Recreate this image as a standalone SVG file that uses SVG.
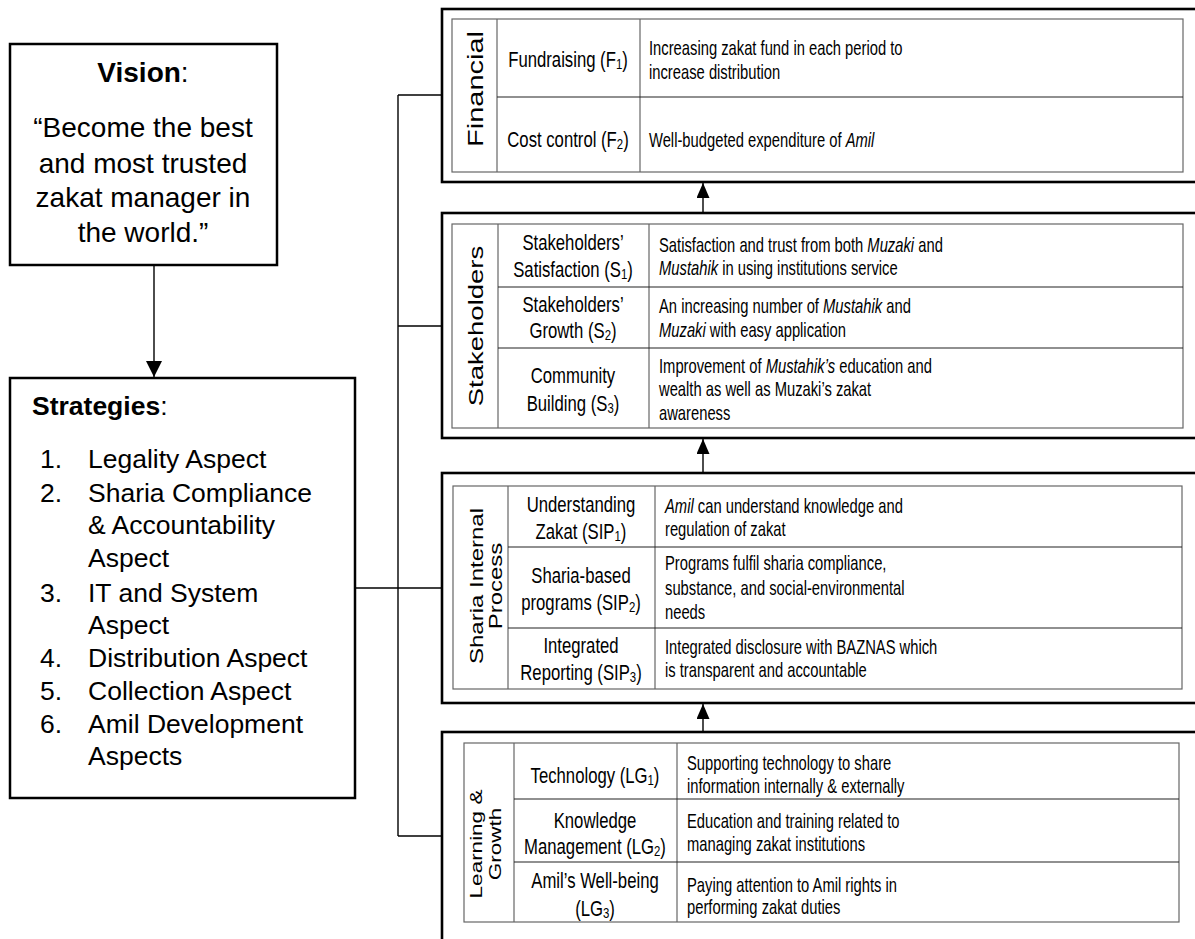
<svg xmlns="http://www.w3.org/2000/svg" width="1195" height="939" viewBox="0 0 1195 939">
<style>
text{font-family:"Liberation Sans",Arial,sans-serif;fill:#000}
.big{font-size:28px}
.lst{font-size:26.5px}
.mid{font-size:22px;text-anchor:middle}
.desc{font-size:20.5px}
.side{text-anchor:middle}
.box{fill:#fff;stroke:#000;stroke-width:2.5}
.outer{fill:#fff;stroke:#000;stroke-width:2.6}
.tbl{fill:none;stroke:#666;stroke-width:1.2}
.row{stroke:#222;stroke-width:1.2}
.col{stroke:#666;stroke-width:1.2}
.conn{fill:none;stroke:#000;stroke-width:1.4}
.sub{font-size:15px}
</style>
<defs>
<marker id="ah" markerWidth="16" markerHeight="16" refX="16" refY="8" orient="auto" markerUnits="userSpaceOnUse">
<path d="M0,0 L16,8 L0,16 Z" fill="#000"/>
</marker>
<marker id="ah2" markerWidth="15" markerHeight="13" refX="15" refY="6.5" orient="auto" markerUnits="userSpaceOnUse">
<path d="M0,0 L15,6.5 L0,13 Z" fill="#000"/>
</marker>
</defs>
<rect width="1195" height="939" fill="#fff"/>

<g id="connectors">
<line class="conn" x1="154" y1="265" x2="154" y2="377" marker-end="url(#ah)"/>
<line class="conn" x1="398" y1="95" x2="398" y2="836"/>
<line class="conn" x1="398" y1="95" x2="442" y2="95"/>
<line class="conn" x1="398" y1="326" x2="442" y2="326"/>
<line class="conn" x1="355" y1="588" x2="442" y2="588"/>
<line class="conn" x1="398" y1="836" x2="442" y2="836"/>
<line class="conn" x1="703" y1="213" x2="703" y2="183" marker-end="url(#ah2)"/>
<line class="conn" x1="703" y1="473" x2="703" y2="439" marker-end="url(#ah2)"/>
<line class="conn" x1="703" y1="732" x2="703" y2="704" marker-end="url(#ah2)"/>
</g>

<g id="vision">
<rect class="box" x="10" y="44" width="267" height="221"/>
<text class="big" x="143" y="82" text-anchor="middle"><tspan font-weight="bold">Vision</tspan>:</text>
<text class="big" x="143" y="137" text-anchor="middle">“Become the best</text>
<text class="big" x="143" y="173" text-anchor="middle">and most trusted</text>
<text class="big" x="143" y="207" text-anchor="middle">zakat manager in</text>
<text class="big" x="143" y="242" text-anchor="middle">the world.”</text>
</g>

<g id="strategies">
<rect class="box" x="10" y="378" width="345" height="420"/>
<text class="lst" x="32" y="415"><tspan font-weight="bold">Strategies</tspan>:</text>
<text class="lst" x="40" y="468">1.</text><text class="lst" x="88" y="468">Legality Aspect</text>
<text class="lst" x="40" y="502">2.</text><text class="lst" x="88" y="502">Sharia Compliance</text>
<text class="lst" x="88" y="534">&amp; Accountability</text>
<text class="lst" x="88" y="567">Aspect</text>
<text class="lst" x="40" y="602">3.</text><text class="lst" x="88" y="602">IT and System</text>
<text class="lst" x="88" y="634">Aspect</text>
<text class="lst" x="40" y="667">4.</text><text class="lst" x="88" y="667">Distribution Aspect</text>
<text class="lst" x="40" y="700">5.</text><text class="lst" x="88" y="700">Collection Aspect</text>
<text class="lst" x="40" y="733">6.</text><text class="lst" x="88" y="733">Amil Development</text>
<text class="lst" x="88" y="765">Aspects</text>
</g>

<g id="financial">
<rect class="outer" x="442" y="9" width="770" height="173"/>
<rect class="tbl" x="452" y="19" width="731" height="153"/>
<line class="col" x1="497" y1="19" x2="497" y2="172"/>
<line class="col" x1="640" y1="19" x2="640" y2="172"/>
<line class="row" x1="497" y1="97" x2="1183" y2="97"/>
<text class="side" font-size="29" transform="translate(483,89) scale(0.76,1) rotate(-90)">Financial</text>
<text class="mid" transform="translate(568,67) scale(0.76,1)">Fundraising (F<tspan class="sub" dy="2">1</tspan><tspan dy="-2">)</tspan></text>
<text class="mid" transform="translate(568,147) scale(0.76,1)">Cost control (F<tspan class="sub" dy="2">2</tspan><tspan dy="-2">)</tspan></text>
<text class="desc" transform="translate(649,55) scale(0.72,1)">Increasing zakat fund in each period to</text>
<text class="desc" transform="translate(649,79) scale(0.72,1)">increase distribution</text>
<text class="desc" transform="translate(649,147) scale(0.72,1)">Well-budgeted expenditure of <tspan font-style="italic">Amil</tspan></text>
</g>

<g id="stakeholders">
<rect class="outer" x="442" y="213" width="770" height="225"/>
<rect class="tbl" x="452" y="224" width="731" height="204"/>
<line class="col" x1="498" y1="224" x2="498" y2="428"/>
<line class="col" x1="649" y1="224" x2="649" y2="428"/>
<line class="row" x1="498" y1="287" x2="1183" y2="287"/>
<line class="row" x1="498" y1="348" x2="1183" y2="348"/>
<text class="side" font-size="27.5" transform="translate(483,326) scale(0.76,1) rotate(-90)">Stakeholders</text>
<text class="mid" transform="translate(573,250) scale(0.76,1)">Stakeholders’</text>
<text class="mid" transform="translate(573,277) scale(0.76,1)">Satisfaction (S<tspan class="sub" dy="2">1</tspan><tspan dy="-2">)</tspan></text>
<text class="mid" transform="translate(573,312) scale(0.76,1)">Stakeholders’</text>
<text class="mid" transform="translate(573,338) scale(0.76,1)">Growth (S<tspan class="sub" dy="2">2</tspan><tspan dy="-2">)</tspan></text>
<text class="mid" transform="translate(573,383) scale(0.76,1)">Community</text>
<text class="mid" transform="translate(573,411) scale(0.76,1)">Building (S<tspan class="sub" dy="2">3</tspan><tspan dy="-2">)</tspan></text>
<text class="desc" transform="translate(659,252) scale(0.72,1)">Satisfaction and trust from both <tspan font-style="italic">Muzaki</tspan> and</text>
<text class="desc" transform="translate(659,275) scale(0.72,1)"><tspan font-style="italic">Mustahik</tspan> in using institutions service</text>
<text class="desc" transform="translate(659,313) scale(0.72,1)">An increasing number of <tspan font-style="italic">Mustahik</tspan> and</text>
<text class="desc" transform="translate(659,337) scale(0.72,1)"><tspan font-style="italic">Muzaki</tspan> with easy application</text>
<text class="desc" transform="translate(659,373) scale(0.72,1)">Improvement of <tspan font-style="italic">Mustahik’s</tspan> education and</text>
<text class="desc" transform="translate(659,396) scale(0.72,1)">wealth as well as Muzaki’s zakat</text>
<text class="desc" transform="translate(659,420) scale(0.72,1)">awareness</text>
</g>

<g id="sharia">
<rect class="outer" x="442" y="473" width="770" height="230"/>
<rect class="tbl" x="453" y="486" width="729" height="203"/>
<line class="col" x1="508" y1="486" x2="508" y2="689"/>
<line class="col" x1="655" y1="486" x2="655" y2="689"/>
<line class="row" x1="508" y1="547" x2="1182" y2="547"/>
<line class="row" x1="508" y1="628" x2="1182" y2="628"/>
<text class="side" font-size="24" transform="translate(483,586) scale(0.76,1) rotate(-90)">Sharia Internal</text>
<text class="side" font-size="24" transform="translate(502,586) scale(0.76,1) rotate(-90)">Process</text>
<text class="mid" transform="translate(581,512) scale(0.76,1)">Understanding</text>
<text class="mid" transform="translate(581,539) scale(0.76,1)">Zakat (SIP<tspan class="sub" dy="2">1</tspan><tspan dy="-2">)</tspan></text>
<text class="mid" transform="translate(581,583) scale(0.76,1)">Sharia-based</text>
<text class="mid" transform="translate(581,610) scale(0.76,1)">programs (SIP<tspan class="sub" dy="2">2</tspan><tspan dy="-2">)</tspan></text>
<text class="mid" transform="translate(581,653) scale(0.76,1)">Integrated</text>
<text class="mid" transform="translate(581,680) scale(0.76,1)">Reporting (SIP<tspan class="sub" dy="2">3</tspan><tspan dy="-2">)</tspan></text>
<text class="desc" transform="translate(665,513) scale(0.72,1)"><tspan font-style="italic">Amil</tspan> can understand knowledge and</text>
<text class="desc" transform="translate(665,536) scale(0.72,1)">regulation of zakat</text>
<text class="desc" transform="translate(665,570) scale(0.72,1)">Programs fulfil sharia compliance,</text>
<text class="desc" transform="translate(665,595) scale(0.72,1)">substance, and social-environmental</text>
<text class="desc" transform="translate(665,619) scale(0.72,1)">needs</text>
<text class="desc" transform="translate(665,654) scale(0.72,1)">Integrated disclosure with BAZNAS which</text>
<text class="desc" transform="translate(665,677) scale(0.72,1)">is transparent and accountable</text>
</g>

<g id="learning">
<rect class="outer" x="442" y="732" width="770" height="220"/>
<rect class="tbl" x="464" y="743" width="715" height="179"/>
<line class="col" x1="514" y1="743" x2="514" y2="922"/>
<line class="col" x1="677" y1="743" x2="677" y2="922"/>
<line class="row" x1="514" y1="799" x2="1179" y2="799"/>
<line class="row" x1="514" y1="862" x2="1179" y2="862"/>
<text class="side" font-size="22.5" transform="translate(482,844) scale(0.76,1) rotate(-90)">Learning &amp;</text>
<text class="side" font-size="22.5" transform="translate(501,844) scale(0.76,1) rotate(-90)">Growth</text>
<text class="mid" transform="translate(595,783) scale(0.76,1)">Technology (LG<tspan class="sub" dy="2">1</tspan><tspan dy="-2">)</tspan></text>
<text class="mid" transform="translate(595,828) scale(0.76,1)">Knowledge</text>
<text class="mid" transform="translate(595,854) scale(0.76,1)">Management (LG<tspan class="sub" dy="2">2</tspan><tspan dy="-2">)</tspan></text>
<text class="mid" transform="translate(595,888) scale(0.76,1)">Amil’s Well-being</text>
<text class="mid" transform="translate(595,916) scale(0.76,1)">(LG<tspan class="sub" dy="2">3</tspan><tspan dy="-2">)</tspan></text>
<text class="desc" transform="translate(687,770) scale(0.72,1)">Supporting technology to share</text>
<text class="desc" transform="translate(687,793) scale(0.72,1)">information internally &amp; externally</text>
<text class="desc" transform="translate(687,828) scale(0.72,1)">Education and training related to</text>
<text class="desc" transform="translate(687,851) scale(0.72,1)">managing zakat institutions</text>
<text class="desc" transform="translate(687,892) scale(0.72,1)">Paying attention to Amil rights in</text>
<text class="desc" transform="translate(687,914) scale(0.72,1)">performing zakat duties</text>
</g>
</svg>
